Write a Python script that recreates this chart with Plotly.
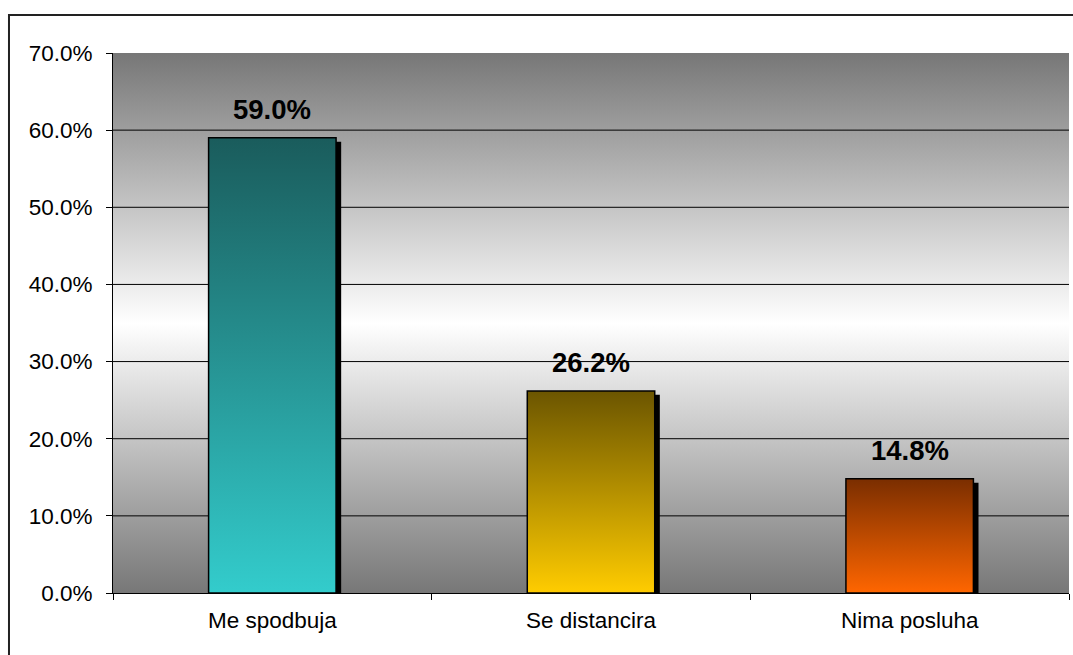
import plotly.graph_objects as go

# Survey answers and their shares (percent)
categories = ["Me spodbuja", "Se distancira", "Nima posluha"]
shares = [59.0, 26.2, 14.8]
bar_top_colors = ["#1a5c5c", "#6b5500", "#7a2e00"]
bar_bottom_colors = ["#33cccc", "#ffcc00", "#ff6600"]
y_ticks = [0, 10, 20, 30, 40, 50, 60, 70]
y_tick_labels = [f"{t:.1f}%" for t in y_ticks]

Y_MAX = 70
HALF_W = 0.2          # half bar width in category units
SHADOW_DX = 0.016     # shadow offset, category units
SHADOW_DY = 0.5       # shadow offset, percent units
FONT = "Liberation Sans, Arial, sans-serif"

xs = list(range(len(categories)))
fig = go.Figure()

# Plot-area background: grey at top and bottom, white through the middle
fig.add_trace(go.Scatter(
    x=[-0.5, 2.5, 2.5, -0.5, -0.5],
    y=[0, 0, Y_MAX, Y_MAX, 0],
    mode="lines", line=dict(width=0), fill="toself",
    fillgradient=dict(type="vertical", start=0, stop=Y_MAX,
                      colorscale=[[0, "#777777"], [0.5, "#ffffff"], [1, "#777777"]]),
    hoverinfo="skip", showlegend=False,
))

# Horizontal gridlines above the background, below the bars
gx, gy = [], []
for t in y_ticks[1:-1]:
    gx += [-0.5, 2.5, None]
    gy += [t, t, None]
fig.add_trace(go.Scatter(x=gx, y=gy, mode="lines",
                         line=dict(color="#000000", width=1),
                         hoverinfo="skip", showlegend=False))

for x, v, ctop, cbot in zip(xs, shares, bar_top_colors, bar_bottom_colors):
    # drop shadow
    sx0, sx1 = x - HALF_W + SHADOW_DX, x + HALF_W + SHADOW_DX
    fig.add_trace(go.Scatter(
        x=[sx0, sx1, sx1, sx0, sx0], y=[0, 0, v - SHADOW_DY, v - SHADOW_DY, 0],
        mode="lines", line=dict(width=0), fill="toself", fillcolor="#000000",
        hoverinfo="skip", showlegend=False,
    ))
    # bar with vertical gradient
    bx0, bx1 = x - HALF_W, x + HALF_W
    fig.add_trace(go.Scatter(
        x=[bx0, bx1, bx1, bx0, bx0], y=[0, 0, v, v, 0],
        mode="lines", line=dict(color="#000000", width=1.5), fill="toself",
        fillgradient=dict(type="vertical", start=0, stop=v,
                          colorscale=[[0, cbot], [1, ctop]]),
        hoverinfo="skip", showlegend=False,
    ))
    fig.add_annotation(x=x, y=v, text=f"<b>{v:.1f}%</b>", showarrow=False,
                       yanchor="bottom", yshift=11,
                       font=dict(family=FONT, size=27.5, color="#000000"))

# Outer chart frame
fig.add_shape(type="rect", xref="paper", yref="paper",
              x0=-0.1088, x1=1.02, y0=-0.13, y1=1.0704,
              line=dict(color="#222222", width=2), fillcolor="rgba(0,0,0,0)")

fig.update_layout(
    width=1073, height=655,
    margin=dict(l=113, r=4, t=53, b=62),
    paper_bgcolor="#ffffff", plot_bgcolor="#ffffff",
    showlegend=False,
    font=dict(family=FONT, size=22.5, color="#000000"),
    xaxis=dict(range=[-0.5, 2.5], tickvals=xs, ticktext=categories,
               ticks="", showgrid=False, zeroline=False,
               showline=True, linecolor="#000000", linewidth=1,
               ticklabelstandoff=7,
               minor=dict(ticks="outside", tick0=-0.5, dtick=1, ticklen=6,
                          tickcolor="#000000", showgrid=False),
               fixedrange=True),
    yaxis=dict(range=[0, Y_MAX], tickvals=y_ticks, ticktext=y_tick_labels,
               ticks="outside", ticklen=6, tickcolor="#000000",
               showgrid=False, zeroline=False,
               showline=True, linecolor="#000000", linewidth=1,
               ticklabelstandoff=9, fixedrange=True),
)

fig.write_html("out.html")
